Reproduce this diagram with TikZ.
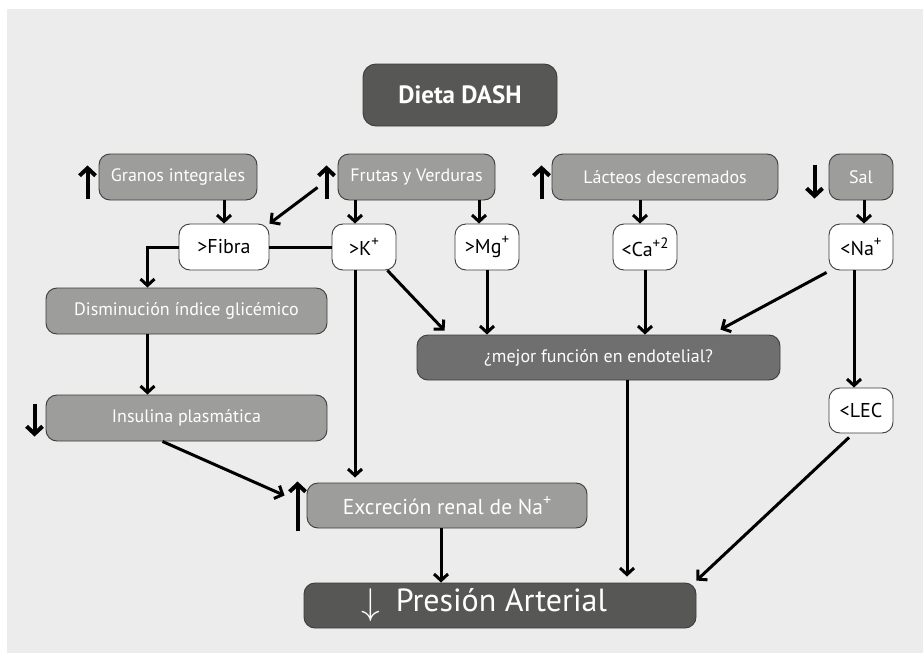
\documentclass[tikz,border=0pt]{standalone}
\usepackage{fontspec}
\setmainfont{PT Sans}
\usetikzlibrary{arrows.meta}
\definecolor{fondo}{RGB}{235,236,235}
\definecolor{oscuro}{RGB}{87,87,86}
\definecolor{medio}{RGB}{157,157,156}
\definecolor{endot}{RGB}{112,111,111}
\definecolor{borde}{RGB}{60,60,59}
\newcommand{\carga}[1]{\raisebox{0.42em}{\scalebox{0.75}{#1}}}
\tikzset{
	caja/.style={draw=borde, line width=0.9pt, rounded corners=11pt, inner sep=0pt,
		minimum height=46pt, text=white, font=\fontsize{18}{20}\selectfont},
	gris/.style={caja, fill=medio},
	blanca/.style={caja, fill=white, text=black, minimum width=64pt, font=\fontsize{20}{22}\selectfont},
	flecha/.style={line width=3pt, -{Straight Barb[length=6.5pt,width=14pt]}},
	indica/.style={line width=4pt, -{Straight Barb[length=7.5pt,width=16pt]}}
}
\begin{document}
\begin{tikzpicture}[x=1pt,y=-1pt]
	% page and backdrop
	\useasboundingbox (0,0) rectangle (923,653);
	\fill[white] (0,0) rectangle (923,653);
	\fill[fondo] (7,9) rectangle (923,653);

	% title
	\node[caja, fill=oscuro, minimum width=194pt, minimum height=62pt, rounded corners=13pt,
		font=\fontsize{25}{30}\selectfont\bfseries] (titulo) at (460,95) {Dieta DASH};

	% food groups
	\node[gris, minimum width=158pt] (gran) at (178,177) {Granos integrales};
	\node[gris, minimum width=157pt] (frutas) at (416.5,177) {Frutas y Verduras};
	\node[gris, minimum width=226pt] (lacteos) at (665,177) {Lácteos descremados};
	\node[gris, minimum width=64pt] (sal) at (861,177) {Sal};

	% nutrients
	\node[blanca, minimum width=90pt] (fibra) at (224,247) {>Fibra};
	\node[blanca] (k) at (364,247) {>K\carga{+}};
	\node[blanca] (mg) at (487,247) {>Mg\carga{+}};
	\node[blanca] (ca) at (645,247) {<Ca\carga{+2}};
	\node[blanca] (na) at (861,247) {<Na\carga{+}};

	% effects
	\node[gris, minimum width=281pt] (dism) at (186.5,311) {Disminución índice glicémico};
	\node[gris, minimum width=281pt] (ins) at (186.5,418) {Insulina plasmática};
	\node[caja, fill=endot, minimum width=363pt, minimum height=45pt] (mejor) at (598.5,357.5) {¿mejor función en endotelial?};
	\node[blanca, minimum height=45pt] (lec) at (861,410.5) {<LEC};
	\node[gris, minimum width=280pt, minimum height=45pt,
		font=\fontsize{21.5}{24}\selectfont] (excr) at (447,505.5) {Excreción renal de Na\carga{+}};

	% outcome
	\node[caja, fill=oscuro, minimum width=392pt, minimum height=45pt,
		font=\fontsize{32}{34}\selectfont] (pres) at (500,605.5) {\raisebox{-3pt}{\scalebox{1.5}{$\downarrow$}}\hspace{16pt}Presión Arterial\kern32pt};

	% up / down markers
	\draw[indica] ([xshift=-11pt,yshift=1pt]gran.south west) -- ++(0,-34);
	\draw[indica] ([xshift=-11pt,yshift=1pt]frutas.south west) -- ++(0,-34);
	\draw[indica] ([xshift=-10pt,yshift=1pt]lacteos.south west) -- ++(0,-34);
	\draw[indica] ([xshift=-14pt,yshift=-11pt]sal.north west) -- ++(0,34);
	\draw[indica] ([xshift=-11pt,yshift=-9pt]ins.north west) -- ++(0,33);
	\draw[indica] ([xshift=-9pt,yshift=-3pt]excr.south west) -- ++(0,-50);

	% food groups to nutrients
	\draw[flecha] (fibra.north |- gran.south) -- (fibra.north);
	\draw[flecha] ([xshift=-20pt,yshift=13pt]frutas.south west) -- (fibra.north east);
	\draw[flecha] ([xshift=-9pt]k.north |- frutas.south) -- ([xshift=-9pt]k.north);
	\draw[flecha] ([xshift=-8pt]mg.north |- frutas.south) -- ([xshift=-8pt]mg.north);
	\draw[flecha] ([xshift=-5pt]ca.north |- lacteos.south) -- ([xshift=-5pt]ca.north);
	\draw[flecha] ([xshift=3pt]sal.south) -- ([xshift=3pt]na.north);

	% fibre branch
	\draw[line width=3pt] (fibra.east) -- (k.west);
	\draw[flecha] (fibra.west) -| ([xshift=-39pt]dism.north);
	\draw[flecha] ([xshift=-39pt]dism.south) -- ([xshift=-39pt]ins.north);
	\draw[flecha] ([xshift=-24pt]ins.south) -- ([xshift=-22pt,yshift=10pt]excr.west);

	% nutrients to endothelium and kidney
	\draw[flecha] ([xshift=-9pt]k.south) -- ([xshift=-9pt,yshift=5pt]k.south |- excr.north);
	\draw[flecha] ([xshift=-9pt]k.south east) -- ([xshift=28pt,yshift=4pt]mejor.north west);
	\draw[flecha] (mg.south) -- (mg.south |- mejor.north);
	\draw[flecha] (ca.south) -- (ca.south |- mejor.north);
	\draw[flecha] ([xshift=-2pt,yshift=-2pt]na.south west) -- ([xshift=-60pt,yshift=5pt]mejor.north east);
	\draw[flecha] ([xshift=-7pt]na.south) -- ([xshift=-7pt]lec.north);

	% into blood pressure
	\draw[flecha] ([xshift=-6pt]excr.south) -- ([xshift=-6pt]excr.south |- pres.north);
	\draw[flecha] ([xshift=28.5pt]mejor.south) -- ([xshift=28.5pt,yshift=6pt]mejor.south |- pres.north);
	\draw[flecha] ([xshift=-12pt,yshift=-4pt]lec.south) -- ([yshift=2pt]pres.north east);
\end{tikzpicture}
\end{document}
